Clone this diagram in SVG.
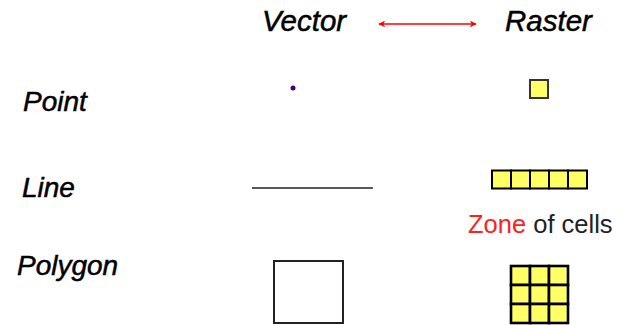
<svg xmlns="http://www.w3.org/2000/svg" width="627" height="325" viewBox="0 0 627 325">
<style>
.h{font-family:"Liberation Sans",Arial,sans-serif;font-style:italic;font-size:29.5px;fill:#000;stroke:#000;stroke-width:0.5}
.l{font-family:"Liberation Sans",Arial,sans-serif;font-style:italic;font-size:28px;fill:#000;stroke:#000;stroke-width:0.5}
.cell{fill:#ffff66;stroke:#000;stroke-width:2}
.g{fill:#ffff66;stroke:#000;stroke-width:2.6}
.z{font-family:"Liberation Sans",Arial,sans-serif;font-size:25.5px}
</style>
<defs>
<marker id="ah" viewBox="0 0 10 10" refX="9" refY="5" markerWidth="7" markerHeight="7" orient="auto-start-reverse" markerUnits="userSpaceOnUse">
<path d="M0,0 L10,5 L0,10 L3,5 z" fill="#ff0000"/>
</marker>
</defs>
<rect width="627" height="325" fill="#fff"/>
<g id="vector-title"><text class="h" x="262" y="31">Vector</text></g>
<g id="raster-title"><text class="h" x="505" y="31">Raster</text></g>
<g id="connectors">
<line x1="379" y1="24" x2="476" y2="24" stroke="#ff0000" stroke-width="1.5" marker-start="url(#ah)" marker-end="url(#ah)"/>
</g>
<g id="point-label"><text class="l" x="23" y="111">Point</text></g>
<g id="line-label"><text class="l" x="22" y="197">Line</text></g>
<g id="polygon-label"><text class="l" x="17" y="275">Polygon</text></g>
<g id="vector-point"><circle cx="293" cy="88" r="2.5" fill="#400080"/></g>
<g id="raster-point"><rect x="530" y="80" width="18" height="18" fill="#ffff66" stroke="#333" stroke-width="2"/></g>
<g id="vector-line"><line x1="252" y1="188" x2="373" y2="188" stroke="#222" stroke-width="1.5"/></g>
<g id="raster-line">
<rect class="cell" x="492" y="170.5" width="19" height="18"/>
<rect class="cell" x="511" y="170.5" width="19" height="18"/>
<rect class="cell" x="530" y="170.5" width="19" height="18"/>
<rect class="cell" x="549" y="170.5" width="19" height="18"/>
<rect class="cell" x="568" y="170.5" width="19" height="18"/>
</g>
<g id="zone-label"><text class="z" x="468" y="233"><tspan fill="#ff2020">Zone</tspan><tspan fill="#222"> of cells</tspan></text></g>
<g id="vector-polygon"><rect x="274" y="261" width="69" height="62" fill="#fff" stroke="#222" stroke-width="2"/></g>
<g id="raster-polygon">
<rect class="g" x="511" y="266" width="19" height="19"/>
<rect class="g" x="530" y="266" width="19" height="19"/>
<rect class="g" x="549" y="266" width="19" height="19"/>
<rect class="g" x="511" y="285" width="19" height="19"/>
<rect class="g" x="530" y="285" width="19" height="19"/>
<rect class="g" x="549" y="285" width="19" height="19"/>
<rect class="g" x="511" y="304" width="19" height="19"/>
<rect class="g" x="530" y="304" width="19" height="19"/>
<rect class="g" x="549" y="304" width="19" height="19"/>
</g>
</svg>
